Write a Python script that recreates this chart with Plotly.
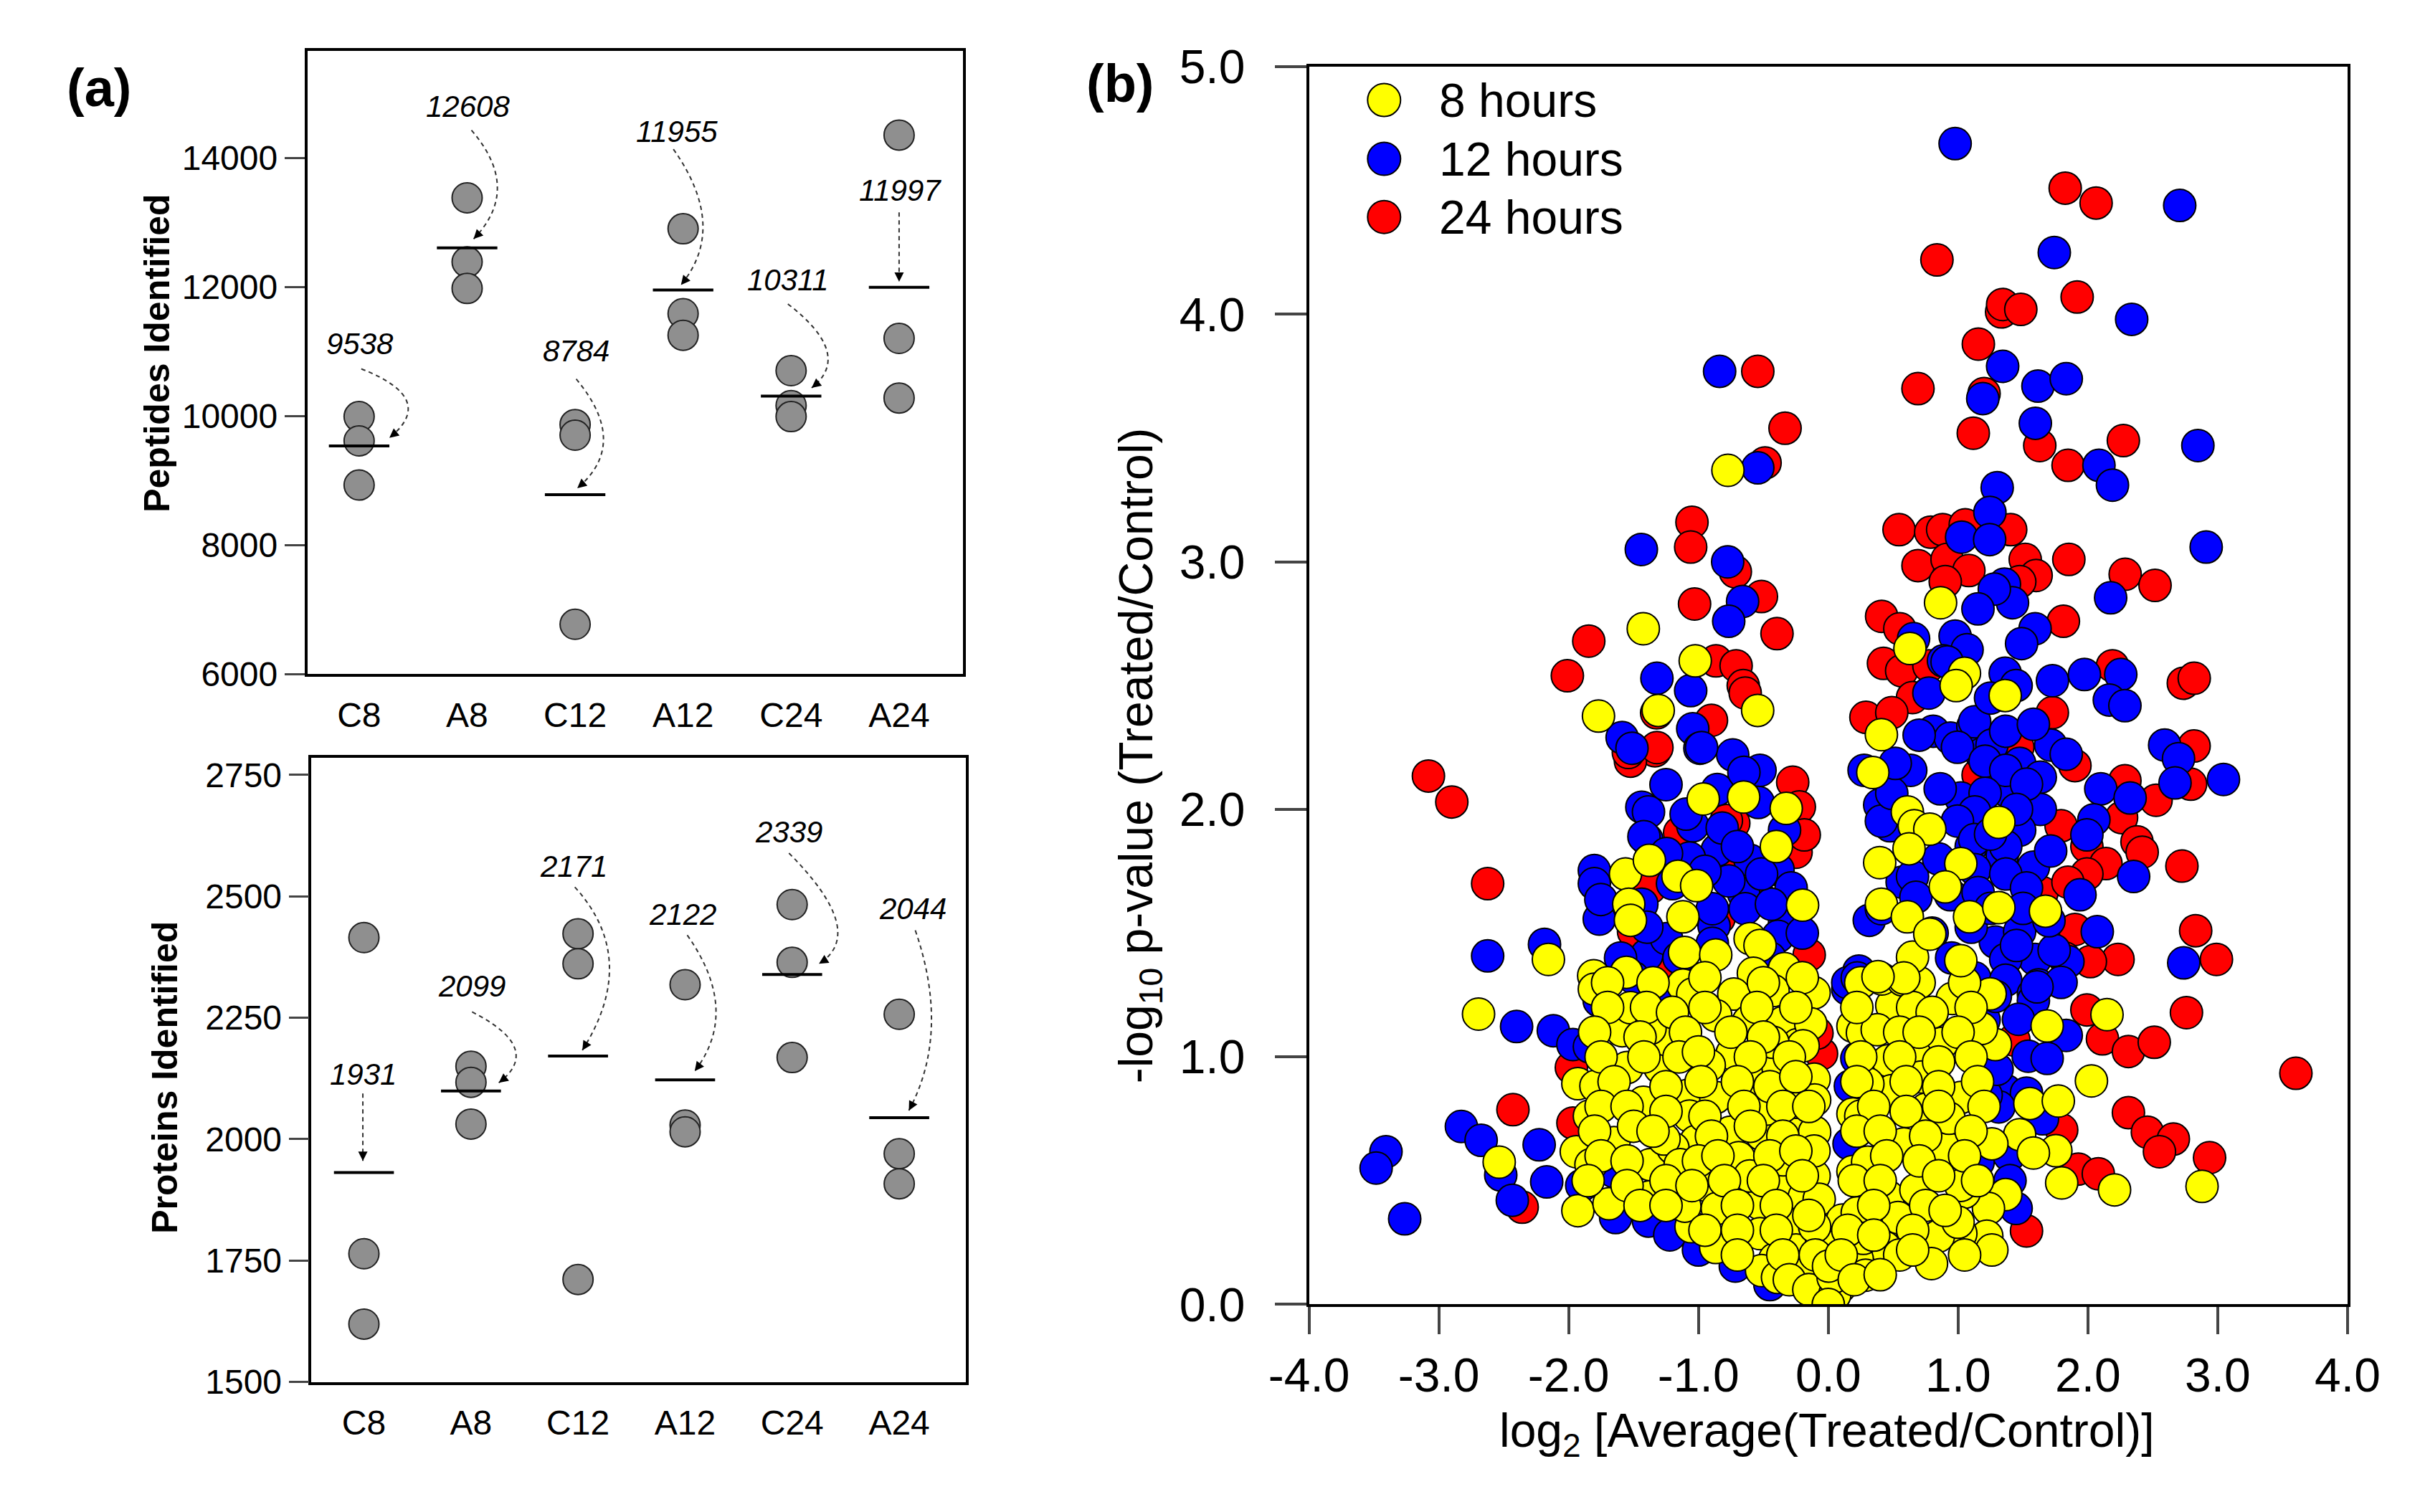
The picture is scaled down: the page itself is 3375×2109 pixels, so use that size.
import math
import plotly.graph_objects as go

W, H = 3375, 2109
FONT = "Liberation Sans, Arial, sans-serif"
GRAY = "#8f8f8f"
YELLOW = "#ffff00"
BLUE = "#0000ff"
RED = "#ff0000"

# ---- panel (a) data ----
CATS = ["C8", "A8", "C12", "A12", "C24", "A24"]
PEP_REPS = [[9993, 9616, 8932], [13383, 12390, 11979], [9870, 9705, 6774],
            [12904, 11589, 11253], [10705, 10164, 9993], [14356, 11205, 10281]]
PEP_MEANS = [9538, 12608, 8784, 11955, 10311, 11997]
PROT_REPS = [[2415, 1764, 1619], [2150, 2117, 2031], [2423, 2361, 1711],
             [2318, 2029, 2015], [2483, 2364, 2168], [2257, 1970, 1908]]
PROT_MEANS = [1931, 2099, 2171, 2122, 2339, 2044]
PEP_TICKS = [6000, 8000, 10000, 12000, 14000]
PROT_TICKS = [1500, 1750, 2000, 2250, 2500, 2750]

# ---- panel (b) data: (log2 ratio, -log10 p) ----
RED_PTS = [
    (-0.543, 3.77), (-0.333, 3.54), (-0.487, 3.40), (-1.05, 3.16), (-1.06, 3.06),
    (-0.716, 2.96), (-0.515, 2.86), (-1.03, 2.83), (-0.395, 2.71), (-1.845, 2.68),
    (-2.01, 2.54), (-0.865, 2.60), (-0.71, 2.58), (-0.655, 2.50),
    (-3.08, 2.135), (-2.90, 2.03), (-2.624, 1.70), (-1.322, 2.39), (-0.64, 2.47),
    (-1.335, 2.237), (-1.524, 2.195), (-0.274, 2.11), (-0.223, 2.01), (-0.728, 1.944),
    (-0.248, 1.827), (-1.145, 1.906), (-1.373, 1.683), (-0.842, 1.56), (-0.147, 1.412),
    (-1.145, 1.375), (-0.90, 2.36), (-1.54, 2.23), (-1.32, 2.25), (-0.785, 1.955),
    (-0.817, 1.785), (-0.514, 1.636), (-1.5, 1.506), (-0.185, 1.897),
    (-1.979, 0.957), (-1.967, 0.733), (-2.429, 0.787), (-2.358, 0.393),
    (-1.248, 1.348), (-0.052, 1.013), (-0.087, 1.096),
    (1.825, 4.51), (2.063, 4.45), (0.837, 4.22), (1.917, 4.07), (1.335, 4.01),
    (1.343, 4.04), (1.483, 4.02), (1.156, 3.88), (0.691, 3.70), (1.117, 3.52),
    (1.629, 3.47), (2.273, 3.49), (1.847, 3.39), (0.545, 3.13), (0.789, 3.12),
    (0.881, 3.13), (1.055, 3.15), (1.405, 3.13), (0.691, 2.985), (0.915, 3.01),
    (1.083, 2.965), (1.517, 3.01), (1.601, 2.945), (0.901, 2.92), (1.475, 2.92),
    (1.853, 3.01), (2.287, 2.95), (2.517, 2.905), (0.411, 2.78), (0.551, 2.73),
    (0.425, 2.59), (0.565, 2.56), (1.811, 2.76), (0.775, 2.58), (2.189, 2.58),
    (2.735, 2.51), (2.819, 2.53), (1.20, 3.68),
    (0.649, 2.452), (0.29, 2.372), (0.489, 2.391), (1.9, 2.177), (1.726, 2.391),
    (1.46, 2.251), (1.154, 2.139), (2.285, 2.116), (2.525, 2.037), (2.259, 1.967),
    (2.818, 2.256), (2.791, 2.102), (1.793, 1.934), (1.992, 1.85), (2.378, 1.869),
    (2.418, 1.827), (2.139, 1.781), (2.724, 1.771), (1.992, 1.739), (1.646, 1.664),
    (1.846, 1.706), (1.9, 1.515), (2.83, 1.51), (2.99, 1.394), (2.232, 1.394),
    (2.019, 1.385), (1.82, 1.40),
    (1.992, 1.19), (2.759, 1.179), (2.112, 1.073), (2.312, 1.022), (2.511, 1.059),
    (3.602, 0.934), (2.312, 0.775), (2.458, 0.696), (2.658, 0.668), (2.551, 0.617),
    (2.937, 0.593), (1.798, 0.705), (1.926, 0.547), (2.08, 0.528), (1.527, 0.297),
    (1.43, 1.068),
]
BLUE_PTS = [
    (-0.837, 3.77), (-0.543, 3.38), (-1.44, 3.05), (-0.775, 3.0), (-0.66, 2.84),
    (-0.767, 2.76), (-1.32, 2.53), (-1.06, 2.48),
    (-1.588, 2.29), (-1.512, 2.247), (-1.044, 2.326), (-0.989, 2.247), (-0.736, 2.22),
    (-0.526, 2.158), (-0.855, 2.08), (-1.436, 2.009), (-1.385, 1.99), (-1.044, 1.934),
    (-1.398, 1.879), (-0.855, 1.836), (-0.602, 1.794), (-0.387, 1.757), (-1.802, 1.753),
    (-1.802, 1.70), (-0.652, 1.66), (-0.286, 1.683), (-1.764, 1.557), (-1.436, 1.617),
    (-0.88, 1.529), (-0.337, 1.543), (-2.624, 1.408), (-2.186, 1.455), (-1.398, 1.412),
    (-1.5, 1.32), (-1.752, 1.254), (-0.976, 2.25), (-1.42, 1.89),
    (-1.246, 1.478), (-1.398, 1.524), (-0.893, 1.599), (-0.64, 1.599), (-0.438, 1.617),
    (-0.766, 1.711), (-0.514, 1.739), (-1.07, 1.804), (-1.246, 1.822), (-0.337, 1.916),
    (-0.539, 2.028), (-1.095, 1.981), (-0.817, 1.925), (-0.387, 1.487), (-0.893, 1.459),
    (-1.752, 1.636), (-1.20, 1.70), (-0.95, 1.75), (-0.70, 1.85), (-0.45, 1.40),
    (-1.60, 1.40), (-1.15, 1.40), (-0.20, 1.50), (-1.25, 2.10), (-0.65, 2.15),
    (-2.401, 1.123), (-2.118, 1.106), (-1.967, 1.05), (-1.84, 1.041), (-2.826, 0.719),
    (-2.674, 0.663), (-2.227, 0.645), (-3.407, 0.617), (-3.483, 0.551), (-2.169, 0.495),
    (-2.523, 0.523), (-2.434, 0.421), (-3.263, 0.346), (-1.651, 0.537), (-1.638, 0.351),
    (-1.385, 0.337), (-1.221, 0.281), (-0.716, 0.155), (-1.00, 0.22), (-0.45, 0.08),
    (-1.765, 1.227), (-1.899, 0.481), (-1.248, 1.208), (0.15, 1.274), (0.17, 0.882),
    (0.16, 0.649),
    (0.977, 4.69), (2.707, 4.44), (1.741, 4.25), (2.337, 3.98), (1.343, 3.79),
    (1.19, 3.66), (1.615, 3.71), (1.833, 3.74), (1.595, 3.56), (2.847, 3.47),
    (2.085, 3.39), (2.189, 3.31), (1.301, 3.30), (1.245, 3.20), (1.027, 3.10),
    (1.243, 3.09), (2.911, 3.06), (1.357, 2.91), (1.419, 2.835), (1.279, 2.89),
    (2.175, 2.855), (1.153, 2.81), (0.657, 2.69), (1.593, 2.73), (1.489, 2.67),
    (0.977, 2.70), (1.069, 2.645), (1.363, 2.55), (1.447, 2.50), (1.727, 2.52),
    (1.973, 2.545), (2.253, 2.545), (0.775, 2.47), (0.887, 2.6),
    (0.915, 2.596), (2.165, 2.442), (2.285, 2.419), (0.808, 2.316), (0.941, 2.288),
    (1.114, 2.335), (1.181, 2.223), (1.474, 2.186), (1.713, 2.26), (1.833, 2.223),
    (0.635, 2.158), (0.396, 2.018), (0.476, 1.934), (1.38, 2.074), (1.633, 2.13),
    (1.021, 2.046), (0.862, 2.083), (1.633, 2.0), (1.474, 1.916), (2.099, 2.083),
    (2.325, 2.046), (2.046, 1.958), (1.992, 1.897), (2.591, 2.26), (2.698, 2.205),
    (2.671, 2.107), (3.044, 2.121), (2.352, 1.729), (1.101, 1.85), (1.34, 1.813),
    (1.58, 1.767), (1.713, 1.832), (1.939, 1.655), (0.569, 1.706), (0.316, 1.552),
    (1.287, 1.464), (1.474, 1.506), (2.072, 1.506), (2.738, 1.38), (1.593, 1.394),
    (1.846, 1.385), (1.62, 1.291), (0.236, 1.347), (0.15, 1.30),
    (1.128, 2.354), (1.261, 2.26), (1.367, 2.316), (1.58, 2.344), (0.995, 2.251),
    (1.208, 2.195), (1.367, 2.158), (1.527, 2.102), (1.208, 2.065), (1.128, 1.99),
    (0.995, 1.953), (1.128, 1.878), (1.367, 1.85), (1.128, 1.757), (1.367, 1.739),
    (0.649, 1.729), (0.409, 1.599), (0.675, 1.645), (0.941, 1.655), (1.154, 1.664),
    (1.527, 1.683), (1.101, 1.524), (1.74, 1.431), (1.367, 1.394), (1.128, 1.319),
    (1.367, 1.31), (1.793, 1.301), (1.58, 1.254), (0.223, 1.319), (0.409, 1.953),
    (0.489, 2.065), (0.276, 2.158), (0.516, 2.186),
    (1.25, 1.90), (1.45, 2.00), (1.25, 1.60), (1.50, 1.60), (0.85, 1.80), (0.80, 1.50),
    (1.45, 1.45), (0.70, 2.30), (1.25, 2.45), (1.70, 1.55), (0.95, 1.40), (1.20, 1.15),
    (1.833, 1.087), (1.54, 1.003), (1.686, 0.994), (1.367, 0.864), (1.527, 0.854),
    (1.314, 0.798), (1.447, 0.388), (1.154, 0.575), (1.58, 1.227), (1.608, 1.283),
    (1.216, 0.845), (0.22, 0.994), (1.394, 0.603), (1.287, 1.245), (1.465, 1.152),
    (1.40, 0.50), (1.30, 0.95), (1.65, 0.75),
]
YELLOW_PTS = [
    (-0.773, 3.37), (-1.425, 2.73), (-1.025, 2.60), (0.865, 2.835), (0.629, 2.65),
    (1.049, 2.55), (0.985, 2.50), (1.363, 2.46),
    (-1.31, 2.40), (-0.544, 2.40), (-1.77, 2.377), (-0.963, 2.042), (-0.652, 2.05),
    (-0.324, 2.004), (-0.40, 1.85), (-1.562, 1.739), (-1.378, 1.794), (-1.158, 1.73),
    (-1.014, 1.692), (-0.198, 1.613), (-1.537, 1.617), (-1.524, 1.552), (-1.12, 1.566),
    (-2.156, 1.394), (-1.807, 1.328), (-1.555, 1.342), (-1.107, 1.422), (-0.867, 1.412),
    (-0.602, 1.478), (-0.526, 1.45), (-0.577, 1.338), (-0.337, 1.357), (-1.12, 1.29),
    (-1.044, 1.254), (-0.728, 1.254), (-0.425, 1.268), (-0.109, 1.259),
    (-2.694, 1.173), (-1.929, 0.892), (-1.79, 0.882), (-1.84, 0.761), (-2.535, 0.575),
    (-1.941, 0.617), (-1.651, 0.654), (-1.929, 0.379), (-1.689, 0.407), (-1.373, 0.435),
    (-1.373, 0.565), (-1.423, 0.817), (-1.55, 0.957), (-1.588, 1.106), (-1.524, 1.199),
    (-1.297, 0.957), (-1.246, 1.069), (-0.867, 1.167), (-0.615, 1.143), (-0.349, 1.139),
    (-1.082, 0.845), (-1.069, 0.761), (-0.741, 1.013), (-0.577, 0.901), (-0.387, 0.957),
    (-0.109, 0.91), (-0.867, 0.836), (-1.019, 0.659), (-0.754, 0.696), (-0.514, 0.687),
    (-0.476, 0.789), (-0.21, 0.724), (-1.196, 0.631), (-0.943, 0.481), (-0.855, 0.388),
    (-0.69, 0.593), (-0.526, 0.407), (-0.337, 0.5), (-0.185, 0.435), (-0.109, 0.519),
    (-1.057, 0.314), (-0.867, 0.23), (-0.526, 0.286), (-0.236, 0.323), (-0.412, 0.183),
    (-0.248, 0.22), (-0.21, 0.118), (-0.514, 0.137), (-0.059, 0.025), (-1.802, 1.274),
    (-0.236, 1.05), (-0.135, 1.134),
    (-1.373, 1.115), (-0.194, 1.045), (-0.427, 1.059), (-0.917, 0.966), (-0.105, 0.826),
    (-0.248, 0.817), (-1.265, 0.668), (-1.828, 0.565), (-1.141, 0.565), (-0.346, 0.584),
    (-0.605, 0.519), (-1.105, 0.397), (-0.07, 0.425), (0.091, 0.071), (0.073, 0.174),
    (-0.391, 0.109), (-0.052, 0.248), (0.109, 0.341), (0.19, 0.77), (0.19, 0.537),
    (0.19, 1.124), (-0.105, 0.696), (-0.105, 0.314),
    # dense left core
    (-1.70, 1.30), (-1.35, 1.30), (-0.95, 1.32), (-0.50, 1.30), (-0.20, 1.32),
    (-1.70, 1.20), (-1.40, 1.20), (-1.20, 1.18), (-0.95, 1.20), (-0.55, 1.20), (-0.25, 1.20),
    (-1.80, 1.10), (-1.45, 1.08), (-1.10, 1.10), (-0.75, 1.10), (-0.50, 1.08),
    (-1.75, 1.00), (-1.42, 1.00), (-1.15, 1.00), (-1.00, 1.02), (-0.60, 1.00), (-0.30, 1.00),
    (-1.65, 0.90), (-1.25, 0.88), (-0.98, 0.90), (-0.70, 0.90), (-0.45, 0.88), (-0.25, 0.92),
    (-1.75, 0.80), (-1.55, 0.80), (-1.25, 0.78), (-0.95, 0.76), (-0.65, 0.80), (-0.35, 0.80),
    (-0.15, 0.80), (-1.80, 0.70), (-1.50, 0.72), (-1.35, 0.70), (-0.90, 0.68), (-0.60, 0.72),
    (-0.35, 0.68), (-0.11, 0.62), (-1.75, 0.60), (-1.55, 0.58), (-1.00, 0.58), (-0.85, 0.60),
    (-0.45, 0.60), (-0.25, 0.62), (-1.85, 0.50), (-1.55, 0.48), (-1.25, 0.50), (-1.05, 0.48),
    (-0.80, 0.50), (-0.50, 0.50), (-0.20, 0.52), (-1.45, 0.40), (-1.25, 0.40), (-0.70, 0.40),
    (-0.40, 0.40), (-0.15, 0.36), (-0.95, 0.30), (-0.70, 0.30), (-0.40, 0.30), (-0.10, 0.20),
    (-0.70, 0.20), (-0.35, 0.20), (-0.30, 0.10), (-0.15, 0.06), (0.05, 0.04),
    (2.147, 1.171), (1.686, 1.125), (2.027, 0.903), (1.553, 0.812), (1.772, 0.822),
    (1.753, 0.621), (1.474, 0.686), (1.58, 0.612), (1.26, 0.649), (1.798, 0.491),
    (2.205, 0.463), (2.879, 0.477), (1.367, 0.444), (1.234, 0.388), (1.221, 0.276),
    (1.26, 0.22), (1.021, 0.286), (0.848, 0.276), (0.795, 0.165), (1.048, 0.453),
    (1.287, 1.05), (1.074, 1.106), (0.875, 1.055), (0.675, 1.003), (0.462, 0.985),
    (0.263, 1.097), (0.489, 1.208), (0.955, 1.236), (1.247, 1.255), (0.489, 0.864),
    (0.755, 0.789), (1.021, 0.836), (0.25, 0.761), (0.582, 0.649), (0.915, 0.631),
    (0.303, 0.575), (1.021, 0.481), (0.462, 0.435), (0.675, 0.463), (0.223, 0.37),
    (0.489, 0.342), (0.436, 0.23), (0.223, 0.183), (0.037, 0.109), (0.0, 0.0),
    (0.412, 1.315), (0.573, 1.311), (0.377, 1.11), (1.18, 1.115), (0.305, 0.891),
    (0.716, 0.919), (0.93, 0.752), (0.537, 0.351), (1.0, 0.332), (0.27, 0.267),
    (0.002, 0.155), (0.287, 0.118),
    # dense right core
    (0.25, 1.30), (0.70, 1.30), (1.05, 1.30), (0.22, 1.20), (0.65, 1.20), (0.80, 1.18),
    (1.10, 1.20), (0.55, 1.10), (0.70, 1.10), (1.00, 1.10), (0.25, 1.00), (0.55, 1.00),
    (0.85, 0.98), (1.10, 1.00), (0.22, 0.90), (0.60, 0.90), (0.85, 0.88), (1.15, 0.90),
    (0.35, 0.80), (0.60, 0.78), (0.85, 0.80), (1.20, 0.80), (0.22, 0.70), (0.40, 0.70),
    (0.75, 0.68), (1.10, 0.70), (0.45, 0.60), (0.70, 0.58), (1.05, 0.60), (0.20, 0.50),
    (0.40, 0.50), (0.85, 0.52), (1.15, 0.50), (0.35, 0.40), (0.75, 0.40), (0.90, 0.38),
    (0.15, 0.30), (0.35, 0.28), (0.65, 0.30), (0.10, 0.20), (0.55, 0.20), (0.65, 0.22),
    (1.05, 0.20), (0.20, 0.10), (0.40, 0.12),
    (0.409, 2.302), (0.343, 2.149), (0.609, 1.99), (0.662, 1.934), (0.782, 1.92),
    (1.314, 1.948), (0.396, 1.785), (0.622, 1.841), (1.021, 1.781), (0.901, 1.687),
    (0.409, 1.617), (0.609, 1.566), (1.088, 1.566), (1.314, 1.603), (1.673, 1.589),
    (0.649, 1.403), (1.021, 1.389), (0.582, 1.319), (0.383, 1.324), (0.782, 1.496),
]
X3_TICKS = [-4, -3, -2, -1, 0, 1, 2, 3, 4]
X3_LABELS = ["-4.0", "-3.0", "-2.0", "-1.0", "0.0", "1.0", "2.0", "3.0", "4.0"]
Y3_TICKS = [0, 1, 2, 3, 4, 5]
Y3_LABELS = ["0.0", "1.0", "2.0", "3.0", "4.0", "5.0"]

HALF = 0.28  # half width of the mean bar

fig = go.Figure()


def add_panel_a(reps, means, xa, ya):
    xs = [i for i, r in enumerate(reps) for _ in r]
    ys = [v for r in reps for v in r]
    fig.add_trace(go.Scatter(
        x=xs, y=ys, mode="markers", xaxis=xa, yaxis=ya, showlegend=False,
        marker=dict(size=42, color=GRAY, line=dict(color="#222", width=2)),
    ))
    mx, my = [], []
    for i, m in enumerate(means):
        mx += [i - HALF, i + HALF, None]
        my += [m, m, None]
    fig.add_trace(go.Scatter(
        x=mx, y=my, mode="lines", xaxis=xa, yaxis=ya, showlegend=False,
        line=dict(color="black", width=4),
    ))


add_panel_a(PEP_REPS, PEP_MEANS, "x", "y")
add_panel_a(PROT_REPS, PROT_MEANS, "x2", "y2")

# volcano: red underneath, yellow on top
for name, pts, col in [("24 hours", RED_PTS, RED), ("12 hours", BLUE_PTS, BLUE),
                       ("8 hours", YELLOW_PTS, YELLOW)]:
    fig.add_trace(go.Scatter(
        x=[p[0] for p in pts], y=[p[1] for p in pts], name=name,
        mode="markers", xaxis="x3", yaxis="y3", showlegend=False,
        marker=dict(size=45, color=col, line=dict(color="black", width=2)),
    ))

# mean labels with curved dashed arrows: label pos, start, control, tip
PEP_ARROWS = [
    ((0.01, 11123), (0.02, 10733), (0.73, 10268), (0.28, 9664)),
    ((1.01, 14801), (1.04, 14431), (1.51, 13521), (1.06, 12746)),
    ((2.01, 11007), (2.01, 10575), (2.51, 9573), (2.02, 8883)),
    ((2.94, 14411), (2.91, 14137), (3.42, 12928), (2.98, 12034)),
    ((3.97, 12116), (3.97, 11739), (4.58, 10951), (4.19, 10438)),
    ((5.01, 13500), (5.0, 13157), None, (5.0, 12082)),
]
PROT_ARROWS = [
    ((-0.01, 2133), (-0.01, 2094), None, (-0.01, 1955)),
    ((1.01, 2315), (1.01, 2262), (1.68, 2187), (1.26, 2116)),
    ((1.96, 2562), (1.97, 2519), (2.58, 2371), (2.04, 2183)),
    ((2.98, 2463), (3.02, 2420), (3.52, 2264), (3.09, 2140)),
    ((3.97, 2633), (3.97, 2589), (4.71, 2425), (4.25, 2361)),
    ((5.13, 2475), (5.15, 2430), (5.48, 2219), (5.09, 2059)),
]

shapes = []
annotations = []


def txt(x, y, text, size, **kw):
    d = dict(x=x, y=y, xref="paper", yref="paper", text=text, showarrow=False,
             xanchor="center", yanchor="middle",
             font=dict(family=FONT, size=size, color="black"))
    d.update(kw)
    annotations.append(d)


def add_arrows(arrows, means, xa, ya, sx, sy):
    for (lab, s, c, e), m in zip(arrows, means):
        annotations.append(dict(
            x=lab[0], y=lab[1], xref=xa, yref=ya, text=f"<i>{m}</i>", showarrow=False,
            xanchor="center", yanchor="middle",
            font=dict(family=FONT, size=42, color="black"),
        ))
        if c is None:
            path = f"M {s[0]},{s[1]} L {e[0]},{e[1]}"
            d = (e[0] - s[0], e[1] - s[1])
        else:
            path = f"M {s[0]},{s[1]} Q {c[0]},{c[1]} {e[0]},{e[1]}"
            d = (e[0] - c[0], e[1] - c[1])
        shapes.append(dict(type="path", path=path, xref=xa, yref=ya,
                           line=dict(color="#333", width=2, dash="6px,5px")))
        px, py = d[0] * sx, -d[1] * sy
        n = math.hypot(px, py)
        annotations.append(dict(
            x=e[0], y=e[1], xref=xa, yref=ya, text="", showarrow=True,
            ax=-px / n * 14, ay=-py / n * 14, arrowhead=2, arrowsize=1.3,
            arrowwidth=2, arrowcolor="black",
        ))


add_arrows(PEP_ARROWS, PEP_MEANS, "x", "y", 943 / 6.07, 901 / 9660)
add_arrows(PROT_ARROWS, PROT_MEANS, "x2", "y2", 941 / 6.11, 902 / 1285)

# legend drawn by hand so the markers keep their size
for yc, col, label in [(98, YELLOW, "8 hours"), (183, BLUE, "12 hours"), (267, RED, "24 hours")]:
    shapes.append(dict(type="circle", xref="paper", yref="paper",
                       xsizemode="pixel", ysizemode="pixel",
                       xanchor=1924 / W, yanchor=1 - yc / H,
                       x0=-23, x1=23, y0=-23, y1=23,
                       fillcolor=col, line=dict(color="black", width=2)))
    txt(2001 / W, 1 - yc / H, label, 66, xanchor="left")

# titles and panel letters
txt(159 / W, 1 - 464 / H, "<b>Peptides Identified</b>", 50, textangle=-90)
txt(170 / W, 1 - 1511 / H, "<b>Proteins Identified</b>", 50, textangle=-90)
txt(1572 / W, 1 - 1046 / H, "-log<sub>10</sub> p-value (Treated/Control)", 66, textangle=-90)
txt(2561 / W, 1 - 2026 / H, "log<sub>2</sub> [Average(Treated/Control)]", 66)
txt(75 / W, 1 - 80 / H, "<b>(a)</b>", 74)
txt(1545 / W, 1 - 74 / H, "<b>(b)</b>", 74)

axis_a = dict(showline=True, mirror=True, linecolor="black", linewidth=3.5,
              showgrid=False, zeroline=False, tickfont=dict(family=FONT, size=48, color="black"))

fig.update_layout(
    width=W, height=H, margin=dict(l=0, r=0, t=0, b=0),
    paper_bgcolor="white", plot_bgcolor="white", showlegend=False,
    xaxis=dict(axis_a, domain=[375 / W, 1318 / W], anchor="y", range=[-0.48, 5.59],
               tickvals=list(range(6)), ticktext=CATS, ticks="outside", ticklen=12,
               tickcolor="rgba(0,0,0,0)"),
    yaxis=dict(axis_a, domain=[1 - 928 / H, 1 - 27 / H], anchor="x", range=[6000, 15660],
               tickvals=PEP_TICKS, ticktext=[str(t) for t in PEP_TICKS],
               ticks="outside", ticklen=28, tickwidth=3),
    xaxis2=dict(axis_a, domain=[381 / W, 1322 / W], anchor="y2", range=[-0.49, 5.62],
                tickvals=list(range(6)), ticktext=CATS, ticks="outside", ticklen=12,
                tickcolor="rgba(0,0,0,0)"),
    yaxis2=dict(axis_a, domain=[1 - 1951 / H, 1 - 1049 / H], anchor="x2", range=[1500, 2785],
                tickvals=PROT_TICKS, ticktext=[str(t) for t in PROT_TICKS],
                ticks="outside", ticklen=28, tickwidth=3),
    xaxis3=dict(domain=[1816 / W, 3310 / W], anchor="y3", range=[-4, 4],
                tickvals=X3_TICKS, ticktext=X3_LABELS, ticks="outside", ticklen=38, tickwidth=4,
                showline=True, mirror=True, linecolor="black", linewidth=4,
                showgrid=False, zeroline=False, tickfont=dict(family=FONT, size=66, color="black")),
    yaxis3=dict(domain=[1 - 1839 / H, 1 - 50 / H], anchor="x3", range=[0, 5],
                tickvals=Y3_TICKS, ticktext=Y3_LABELS, ticks="outside", ticklen=44, tickwidth=4,
                showline=True, mirror=True, linecolor="black", linewidth=4, ticklabelstandoff=28,
                showgrid=False, zeroline=False, tickfont=dict(family=FONT, size=66, color="black")),
    shapes=shapes, annotations=annotations,
)

fig.write_html("out.html")
